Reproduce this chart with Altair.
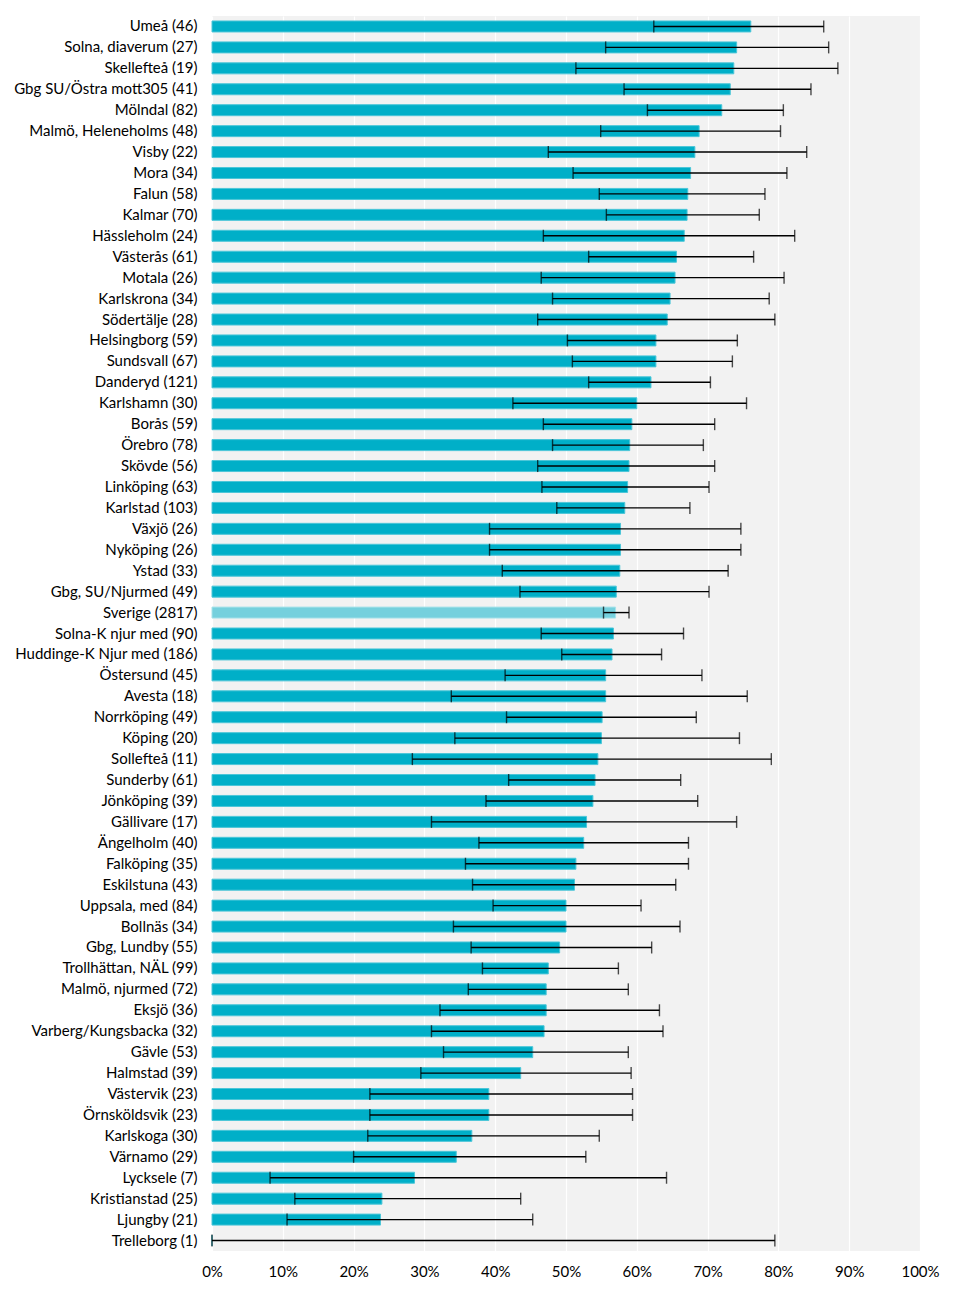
import altair as alt
import pandas as pd

categories = [
    "Umeå (46)", "Solna, diaverum (27)", "Skellefteå (19)", "Gbg SU/Östra mott305 (41)",
    "Mölndal (82)", "Malmö, Heleneholms (48)", "Visby (22)", "Mora (34)", "Falun (58)",
    "Kalmar (70)", "Hässleholm (24)", "Västerås (61)", "Motala (26)", "Karlskrona (34)",
    "Södertälje (28)", "Helsingborg (59)", "Sundsvall (67)", "Danderyd (121)",
    "Karlshamn (30)", "Borås (59)", "Örebro (78)", "Skövde (56)", "Linköping (63)",
    "Karlstad (103)", "Växjö (26)", "Nyköping (26)", "Ystad (33)", "Gbg, SU/Njurmed (49)",
    "Sverige (2817)", "Solna-K njur med (90)", "Huddinge-K Njur med (186)",
    "Östersund (45)", "Avesta (18)", "Norrköping (49)", "Köping (20)", "Sollefteå (11)",
    "Sunderby (61)", "Jönköping (39)", "Gällivare (17)", "Ängelholm (40)",
    "Falköping (35)", "Eskilstuna (43)", "Uppsala, med (84)", "Bollnäs (34)",
    "Gbg, Lundby (55)", "Trollhättan, NÄL (99)", "Malmö, njurmed (72)", "Eksjö (36)",
    "Varberg/Kungsbacka (32)", "Gävle (53)", "Halmstad (39)", "Västervik (23)",
    "Örnsköldsvik (23)", "Karlskoga (30)", "Värnamo (29)", "Lycksele (7)",
    "Kristianstad (25)", "Ljungby (21)", "Trelleborg (1)",
]

values = [
    76.1, 74.1, 73.7, 73.2, 72.0, 68.8, 68.2, 67.6, 67.2, 67.1,
    66.7, 65.6, 65.4, 64.7, 64.3, 62.7, 62.7, 62.0, 60.0, 59.3,
    59.0, 58.9, 58.7, 58.3, 57.7, 57.7, 57.6, 57.1, 57.0, 56.7,
    56.5, 55.6, 55.6, 55.1, 55.0, 54.5, 54.1, 53.8, 52.9, 52.5,
    51.4, 51.2, 50.0, 50.0, 49.1, 47.5, 47.2, 47.2, 46.9, 45.3,
    43.6, 39.1, 39.1, 36.7, 34.5, 28.6, 24.0, 23.8, 0.0,
]

lows = [
    62.4, 55.6, 51.4, 58.2, 61.5, 54.9, 47.5, 51.0, 54.7, 55.7,
    46.8, 53.2, 46.5, 48.1, 46.0, 50.2, 50.9, 53.2, 42.5, 46.8,
    48.1, 46.0, 46.6, 48.7, 39.2, 39.2, 41.0, 43.5, 55.3, 46.5,
    49.4, 41.4, 33.8, 41.6, 34.3, 28.3, 41.9, 38.7, 31.0, 37.7,
    35.8, 36.8, 39.7, 34.1, 36.6, 38.2, 36.2, 32.2, 31.0, 32.7,
    29.5, 22.3, 22.3, 22.0, 20.0, 8.2, 11.7, 10.6, 0.0,
]

highs = [
    86.4, 87.1, 88.4, 84.6, 80.7, 80.3, 84.0, 81.2, 78.1, 77.3,
    82.3, 76.5, 80.8, 78.7, 79.5, 74.2, 73.5, 70.4, 75.5, 71.0,
    69.4, 71.0, 70.2, 67.5, 74.7, 74.7, 72.9, 70.2, 58.9, 66.6,
    63.5, 69.2, 75.6, 68.4, 74.5, 79.0, 66.2, 68.6, 74.1, 67.3,
    67.3, 65.5, 60.6, 66.1, 62.1, 57.4, 58.8, 63.2, 63.7, 58.8,
    59.2, 59.4, 59.4, 54.7, 52.8, 64.2, 43.6, 45.3, 79.5,
]

highlight = "Sverige (2817)"

df = pd.DataFrame({
    "cat": categories,
    "val": [v / 100 for v in values],
    "lo": [v / 100 for v in lows],
    "hi": [v / 100 for v in highs],
})
df["grp"] = ["total" if c == highlight else "unit" for c in categories]

FONT = "Lato"

y_enc = alt.Y(
    "cat:N", sort=categories, title=None,
    scale=alt.Scale(paddingOuter=0, paddingInner=0),
    axis=alt.Axis(
        ticks=False, domain=False, grid=False, labelFont=FONT, labelFontSize=15,
        labelColor="#000000", labelPadding=15, minExtent=200, maxExtent=200,
        labelLimit=300,
    ),
)
x_scale = alt.Scale(domain=[0, 1], nice=False)
x_axis = alt.Axis(
    format="%", values=[i / 10 for i in range(11)], ticks=False, domain=False,
    grid=True, gridColor="#ffffff", gridWidth=1.2, labelFont=FONT, labelFontSize=15,
    labelColor="#000000", labelPadding=13, labelFlush=False, title=None,
)

base = alt.Chart(df)

bars = base.mark_bar(size=11, strokeWidth=1).encode(
    y=y_enc,
    x=alt.X("val:Q", scale=x_scale, axis=x_axis),
    color=alt.Color("grp:N", scale=alt.Scale(domain=["unit", "total"],
                                              range=["#00afc8", "#75d0dd"]), legend=None),
    stroke=alt.Stroke("grp:N", scale=alt.Scale(domain=["unit", "total"],
                                                range=["#4cc6d8", "#a8e2ea"]), legend=None),
)

rule = base.mark_rule(color="#000000", strokeWidth=1.4).encode(
    y=alt.Y("cat:N", sort=categories),
    x=alt.X("lo:Q", scale=x_scale),
    x2="hi:Q",
)

cap_lo = base.mark_tick(color="#000000", thickness=1.4, size=12, orient="vertical").encode(
    y=alt.Y("cat:N", sort=categories),
    x=alt.X("lo:Q", scale=x_scale),
)
cap_hi = base.mark_tick(color="#000000", thickness=1.4, size=12, orient="vertical").encode(
    y=alt.Y("cat:N", sort=categories),
    x=alt.X("hi:Q", scale=x_scale),
)

chart = alt.layer(bars, rule, cap_lo, cap_hi).properties(
    width=708, height=1235,
    padding={"left": 4, "top": 8, "right": 5, "bottom": 5},
    background="#ffffff",
).configure_view(
    fill="#f2f2f2", stroke=None,
)

chart.save("out.html", embed_options={"renderer": "svg", "actions": False})
